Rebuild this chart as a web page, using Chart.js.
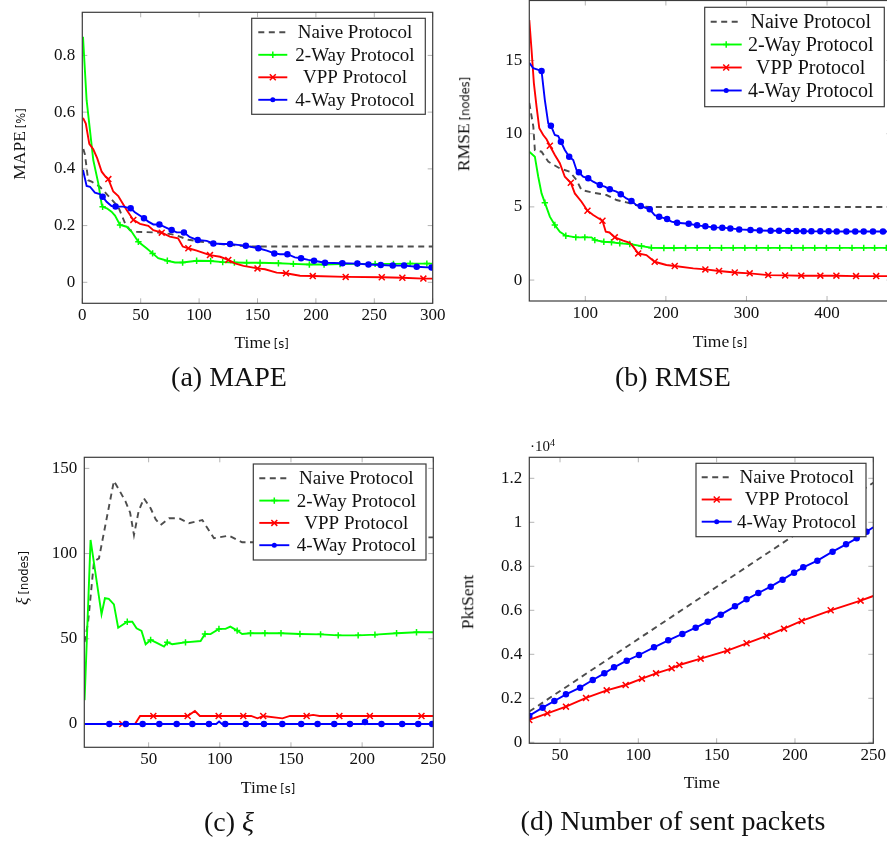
<!DOCTYPE html>
<html><head><meta charset="utf-8">
<script src="https://cdn.jsdelivr.net/npm/chart.js@4.4.1/dist/chart.umd.min.js"></script>
<style>
html,body{margin:0;padding:0;width:887px;height:843px;overflow:hidden;background:#fff;}
canvas{position:absolute;left:0;top:0;}
.t{position:absolute;white-space:nowrap;font-family:"Liberation Serif",serif;color:#111;line-height:1;transform:translate(-50%,-50%);}
.lab{font-size:17.5px;}
.rot{transform:translate(-50%,-50%) rotate(-90deg);}
.u{font-family:"DejaVu Sans",sans-serif;font-size:11.5px;margin-left:3px;}
.cap{font-size:28px;}
.e4{position:absolute;left:530px;top:439px;font-family:"Liberation Serif",serif;font-size:15px;color:#111;line-height:1;}
.e4 sup{font-size:10px;vertical-align:5px;line-height:0;}
</style></head><body>
<canvas id="ca" width="900" height="843"></canvas>
<canvas id="cb" width="900" height="843"></canvas>
<canvas id="cc" width="900" height="843"></canvas>
<canvas id="cd" width="900" height="843"></canvas>

<div class="t lab rot" style="left:20px;top:144px">MAPE<span class="u">[%]</span></div>
<div class="t lab rot" style="left:464px;top:123.5px">RMSE<span class="u">[nodes]</span></div>
<div class="t lab rot" style="left:23px;top:577.5px"><i>ξ</i><span class="u">[nodes]</span></div>
<div class="t lab rot" style="left:467.7px;top:601.7px">PktSent</div>

<div class="t lab" style="left:261.7px;top:342.5px">Time<span class="u">[s]</span></div>
<div class="t lab" style="left:720px;top:341.5px">Time<span class="u">[s]</span></div>
<div class="t lab" style="left:268px;top:787.5px">Time<span class="u">[s]</span></div>
<div class="t lab" style="left:701.8px;top:783.3px">Time</div>

<div class="t cap" style="left:229px;top:377px">(a) MAPE</div>
<div class="t cap" style="left:673px;top:377px">(b) RMSE</div>
<div class="t cap" style="left:229px;top:822px">(c) <i>ξ</i></div>
<div class="t cap" style="left:673px;top:821px">(d) Number of sent packets</div>
<div class="e4">·10<sup>4</sup></div>

<script>
// ---------- (a) MAPE ----------
const mapeXTicks = [0, 50, 100, 150, 200, 250, 300];
const mapeXLabels = ["0", "50", "100", "150", "200", "250", "300"];
const mapeYTicks = [0, 0.2, 0.4, 0.6, 0.8];
const mapeYLabels = ["0", "0.2", "0.4", "0.6", "0.8"];

const mapeNaiveT = [0.9, 2.3, 5, 8, 15, 22, 30.8, 36.6, 40.8, 46, 53.7, 68, 79.4, 90.8, 102, 113.6, 128, 145, 200, 250, 300];
const mapeNaive  = [0.47, 0.45, 0.36, 0.355, 0.337, 0.306, 0.266, 0.208, 0.184, 0.178, 0.177, 0.175, 0.167, 0.15, 0.143, 0.137, 0.131, 0.126, 0.126, 0.126, 0.126];

const mape2WayT = [0.6, 3.7, 9.4, 13.7, 16.6, 17.4, 21, 25, 28, 32.3, 38, 42.3, 48, 55, 60.2, 65, 72.8, 79.4, 85.9, 97.9, 109.9, 120.2, 130.2, 140.7, 152.2, 167.9, 180.7, 194.4, 207, 220.7, 235.5, 250.7, 266.4, 280.7, 295, 300];
const mape2Way  = [0.866, 0.642, 0.431, 0.349, 0.275, 0.266, 0.261, 0.249, 0.235, 0.202, 0.196, 0.178, 0.143, 0.12, 0.102, 0.085, 0.076, 0.07, 0.07, 0.076, 0.075, 0.071, 0.07, 0.069, 0.069, 0.067, 0.065, 0.063, 0.063, 0.064, 0.065, 0.065, 0.065, 0.066, 0.066, 0.066];
const mape2WayMarks = [17.4, 32.3, 48, 60.2, 72.8, 85.9, 97.9, 109.9, 120.2, 130.2, 140.7, 152.2, 167.9, 180.7, 194.4, 207, 220.7, 235.5, 250.7, 266.4, 280.7, 295];

const mapeVppT = [0.6, 3, 6, 9.4, 12.8, 16.6, 20, 22.3, 26.5, 30.8, 33.7, 38, 43.7, 49.4, 56.5, 60.8, 68, 75, 82, 86, 90.8, 98, 109.3, 118, 125, 130.7, 138, 150, 156.4, 166.4, 174.4, 186.4, 197.3, 225.5, 256.4, 274, 292, 300];
const mapeVpp  = [0.58, 0.56, 0.488, 0.469, 0.437, 0.39, 0.372, 0.364, 0.32, 0.304, 0.284, 0.255, 0.22, 0.206, 0.199, 0.184, 0.175, 0.161, 0.155, 0.126, 0.12, 0.112, 0.096, 0.09, 0.079, 0.067, 0.058, 0.049, 0.046, 0.034, 0.032, 0.023, 0.022, 0.019, 0.018, 0.016, 0.013, 0.013];
const mapeVppMarks = [22.3, 43.7, 68, 90.8, 109.3, 125, 150, 174.4, 197.3, 225.5, 256.4, 274, 292];

const mape4WayT = [0.6, 3.7, 6.6, 10.8, 15, 17.4, 20.8, 25, 28.5, 35, 41.4, 45, 52.8, 56.5, 60.8, 66, 71.7, 76.5, 80.8, 87, 92.2, 98.8, 106.5, 112.2, 120.7, 126.5, 133, 140, 146.4, 150.7, 158, 164.4, 169.3, 175.6, 182, 187.3, 193.5, 198.4, 207.8, 222.7, 235.5, 245, 255.5, 265.8, 275.5, 286.3, 299, 300];
const mape4Way  = [0.396, 0.34, 0.337, 0.316, 0.311, 0.302, 0.284, 0.269, 0.267, 0.267, 0.261, 0.247, 0.226, 0.214, 0.204, 0.204, 0.193, 0.184, 0.176, 0.176, 0.159, 0.149, 0.146, 0.137, 0.135, 0.135, 0.132, 0.129, 0.123, 0.12, 0.112, 0.102, 0.099, 0.099, 0.088, 0.085, 0.079, 0.076, 0.069, 0.067, 0.066, 0.063, 0.061, 0.059, 0.059, 0.055, 0.052, 0.05];
const mape4WayMarks = [17.4, 28.5, 41.4, 52.8, 66, 76.5, 87, 98.8, 112.2, 126.5, 140, 150.7, 164.4, 175.6, 187.3, 198.4, 207.8, 222.7, 235.5, 245, 255.5, 265.8, 275.5, 286.3, 299];

// ---------- (b) RMSE ----------
const rmseXTicks = [100, 200, 300, 400];
const rmseXLabels = ["100", "200", "300", "400"];
const rmseYTicks = [0, 5, 10, 15];
const rmseYLabels = ["0", "5", "10", "15"];

const rmseNaiveT = [30.5, 35.5, 37.4, 45.7, 54, 68.4, 80.8, 89, 95.3, 109.8, 126.3, 138.7, 151, 167.5, 180, 250, 350, 480];
const rmseNaive  = [12.1, 10.48, 8.88, 8.77, 8.09, 7.63, 7.4, 6.84, 6.15, 5.97, 5.81, 5.47, 5.31, 5.06, 4.99, 4.99, 4.99, 4.99];

const rmse2WayT = [30.5, 37.4, 41.6, 45.7, 49.8, 56, 62.2, 68.4, 75.8, 88.2, 99.4, 107.7, 111.8, 123, 132.5, 142.8, 155.2, 169.7, 182, 197.5, 210, 224.4, 238.8, 254.5, 269, 283.5, 298, 312.4, 326.9, 341.3, 355.8, 370.2, 384.7, 399.2, 415.7, 431, 445.5, 459, 473.6, 480];
const rmse2Way  = [8.77, 8.43, 7.06, 5.92, 5.29, 4.33, 3.76, 3.3, 3.03, 2.92, 2.92, 2.92, 2.73, 2.62, 2.58, 2.51, 2.46, 2.32, 2.21, 2.19, 2.19, 2.2, 2.2, 2.2, 2.2, 2.2, 2.2, 2.2, 2.2, 2.2, 2.2, 2.2, 2.2, 2.2, 2.2, 2.2, 2.2, 2.2, 2.2, 2.2];
const rmse2WayMarks = [49.8, 62.2, 75.8, 88.2, 99.4, 111.8, 123, 132.5, 142.8, 155.2, 169.7, 182, 197.5, 210, 224.4, 238.8, 254.5, 269, 283.5, 298, 312.4, 326.9, 341.3, 355.8, 370.2, 384.7, 399.2, 415.7, 431, 445.5, 459, 473.6];

const rmseVppT = [30.5, 33.3, 36.2, 39.5, 42.9, 47.8, 51.9, 56, 62.2, 68.4, 74.6, 82, 87, 95.3, 102.7, 109.8, 121.3, 125.4, 130, 136.6, 147, 155.2, 159.4, 165.6, 175.8, 186.1, 200.6, 211, 234, 249, 266, 285.5, 304, 327, 348, 368, 391.7, 411.6, 436, 461, 480];
const rmseVpp  = [17.77, 15.72, 13.44, 11.85, 10.37, 9.91, 9.62, 9.18, 8.54, 7.98, 7.06, 6.65, 5.92, 5.35, 4.74, 4.44, 4.05, 3.3, 3.25, 2.92, 2.69, 2.55, 2.28, 1.82, 1.71, 1.25, 1.03, 0.96, 0.8, 0.73, 0.62, 0.52, 0.46, 0.34, 0.32, 0.3, 0.3, 0.3, 0.27, 0.27, 0.27];
const rmseVppMarks = [56, 82, 102.7, 121.3, 136.6, 165.6, 186.1, 211, 249, 266, 285.5, 304, 327, 348, 368, 391.7, 411.6, 436, 461];

const rmse4WayT = [30.5, 35.4, 45.7, 49.8, 54, 57.3, 62.2, 66.4, 69.7, 74.6, 80, 85, 89.1, 92, 97.3, 103.6, 109.8, 118, 124.2, 130.4, 138.7, 144, 151, 157.3, 163.5, 168.8, 180, 186.1, 191.6, 201.5, 206.9, 213.9, 228.3, 238.7, 249, 259.5, 270, 280, 291, 305, 316.5, 330, 340.5, 351.7, 362, 371, 380.6, 391.7, 402, 412, 424, 435, 445.5, 457, 469.4, 480];
const rmse4Way  = [14.85, 14.47, 14.29, 12.3, 10.71, 10.55, 9.91, 9.84, 9.45, 8.89, 8.43, 8.2, 7.52, 7.36, 7.06, 6.95, 6.72, 6.49, 6.38, 6.2, 6.04, 5.86, 5.58, 5.4, 5.12, 5.06, 4.83, 4.44, 4.33, 4.17, 3.99, 3.92, 3.85, 3.74, 3.67, 3.6, 3.58, 3.53, 3.46, 3.42, 3.39, 3.37, 3.37, 3.35, 3.35, 3.34, 3.33, 3.33, 3.33, 3.32, 3.32, 3.32, 3.32, 3.32, 3.32, 3.32];
const rmse4WayMarks = [45.7, 57.3, 69.7, 80, 92, 103.6, 118, 130.4, 144, 157.3, 168.8, 180, 191.6, 201.5, 213.9, 228.3, 238.7, 249, 259.5, 270, 280, 291, 305, 316.5, 330, 340.5, 351.7, 362, 371, 380.6, 391.7, 402, 412, 424, 435, 445.5, 457, 469.4];

// ---------- (c) xi ----------
const xiXTicks = [50, 100, 150, 200, 250];
const xiXLabels = ["50", "100", "150", "200", "250"];
const xiYTicks = [0, 50, 100, 150];
const xiYLabels = ["0", "50", "100", "150"];

const xiNaiveT = [5, 7.5, 11.6, 15.1, 25.6, 29.5, 33.8, 37, 39.7, 43, 46.7, 51.4, 55, 58.4, 64.3, 71.3, 78.3, 87.7, 95.9, 106.4, 115.7, 121.6, 140, 170, 200, 230, 250];
const xiNaive  = [48, 60, 95.3, 97.2, 142.6, 137, 130.5, 124, 110.9, 125, 132.4, 126.6, 120, 116.8, 120.7, 120.7, 117.8, 119.7, 109, 110.5, 106.6, 106.6, 107, 108, 108.5, 109.5, 109.5];

const xi2WayT = [5, 9.2, 16.9, 19.3, 22, 25.6, 28.6, 35, 38.5, 41.5, 45, 47.9, 51.4, 56.1, 60.8, 63.1, 66.6, 71.3, 75.9, 86.5, 89.6, 93.5, 99.4, 104, 107.4, 112.2, 115.7, 121.6, 131.7, 143, 156.3, 170.8, 183.2, 197.2, 209, 224.2, 238.2, 250];
const xi2Way  = [14, 108, 64.4, 73.8, 73.4, 70.2, 56.5, 60, 60, 56.1, 54.6, 46.8, 49.3, 47.4, 45.4, 47.9, 46.8, 47.4, 47.9, 48.7, 52.8, 52.7, 55.8, 55.8, 57.1, 54.8, 52.8, 53.2, 53.2, 53.2, 52.8, 52.6, 52, 52, 52.4, 53.2, 53.8, 53.8];
const xi2WayMarks = [35, 51.4, 63.1, 75.9, 89.6, 99.4, 112.2, 121.6, 131.7, 143, 156.3, 170.8, 183.2, 197.2, 209, 224.2, 238.2];

const xiVppT = [31.5, 40.4, 44, 53.3, 77.4, 82.5, 86, 99.2, 116.5, 122, 126.5, 130.5, 144, 149.3, 161, 165.6, 170, 184, 205.4, 241.7, 250];
const xiVpp  = [0, 0, 4.7, 4.7, 4.7, 7.6, 4.7, 4.7, 4.7, 4.7, 3.3, 4.7, 3.3, 4.7, 4.7, 5.3, 4.7, 4.7, 4.7, 4.7, 4.7];
const xiVppMarks = [31.5, 53.3, 77.4, 99.2, 116.5, 130.5, 161, 184, 205.4, 241.7];

const xi4WayT = [5, 22.4, 34, 45.8, 57.5, 69.7, 80.7, 92.4, 97.5, 99.5, 101.5, 103.8, 118.3, 131, 143.9, 157.2, 168.7, 180.4, 191.4, 200, 202, 204, 213.6, 228.1, 239.4, 249.2, 250];
const xi4Way  = [0, 0, 0, 0, 0, 0, 0, 0, 0, 1.4, 0, 0, 0, 0, 0, 0, 0, 0, 0, 0, 1.2, 0, 0, 0, 0, 0, 0];
const xi4WayMarks = [22.4, 34, 45.8, 57.5, 69.7, 80.7, 92.4, 103.8, 118.3, 131, 143.9, 157.2, 168.7, 180.4, 191.4, 202, 213.6, 228.1, 239.4, 249.2];

// ---------- (d) sent packets ----------
const pktXTicks = [50, 100, 150, 200, 250];
const pktXLabels = ["50", "100", "150", "200", "250"];
const pktYTicks = [0, 2000, 4000, 6000, 8000, 10000, 12000];
const pktYLabels = ["0", "0.2", "0.4", "0.6", "0.8", "1", "1.2"];

const pktNaiveT = [30.4, 250];
const pktNaive  = [1400, 11800];

const pktVppT = [30.4, 41.9, 53.8, 66.6, 79.8, 91.9, 102.3, 111.3, 121.3, 126.2, 139.8, 156.8, 169.1, 181.9, 193, 204.3, 222.8, 241.9, 250];
const pktVpp  = [1015, 1318, 1621, 2015, 2363, 2606, 2894, 3136, 3363, 3515, 3803, 4166, 4500, 4833, 5166, 5515, 6000, 6439, 6651];
const pktVppMarks = [30.4, 41.9, 53.8, 66.6, 79.8, 91.9, 102.3, 111.3, 121.3, 126.2, 139.8, 156.8, 169.1, 181.9, 193, 204.3, 222.8, 241.9];

const pkt4WayT = [30.4, 38.9, 46.4, 53.8, 62.8, 70.9, 78.3, 84.5, 92.6, 100.4, 110, 119.1, 128.1, 136.6, 144.3, 152.6, 161.7, 169.1, 176.6, 184.5, 192.1, 199.4, 205.3, 214.3, 224, 232.6, 239.4, 245.7, 250];
const pkt4Way  = [1212, 1576, 1879, 2182, 2485, 2833, 3136, 3409, 3712, 3969, 4318, 4636, 4924, 5212, 5484, 5802, 6181, 6500, 6787, 7075, 7393, 7711, 7954, 8257, 8666, 8999, 9272, 9575, 9772];
const pkt4WayMarks = [30.4, 38.9, 46.4, 53.8, 62.8, 70.9, 78.3, 84.5, 92.6, 100.4, 110, 119.1, 128.1, 136.6, 144.3, 152.6, 161.7, 169.1, 176.6, 184.5, 192.1, 199.4, 205.3, 214.3, 224, 232.6, 239.4, 245.7];

// ---------- styles ----------
const LW = 1.9;
const STYLE = {
  naive: { color: '#4d4d4d', dash: [6, 4.5], order: 4 },
  two:   { color: '#00ff00', pointStyle: 'cross', r: 3.2, order: 3 },
  vpp:   { color: '#ff0000', pointStyle: 'crossRot', r: 4.2, order: 2 },
  four:  { color: '#0000ff', pointStyle: 'circle', r: 2.5, order: 1 }
};

function drawMark(ctx, st, x, y) {
  ctx.save();
  ctx.strokeStyle = st.color; ctx.fillStyle = st.color; ctx.lineWidth = 1.5; ctx.setLineDash([]);
  ctx.beginPath();
  if (st.pointStyle === 'circle') { ctx.arc(x, y, st.r, 0, Math.PI * 2); ctx.fill(); }
  else if (st.pointStyle === 'cross') { ctx.moveTo(x - st.r, y); ctx.lineTo(x + st.r, y); ctx.moveTo(x, y - st.r); ctx.lineTo(x, y + st.r); ctx.stroke(); }
  else { const d = st.r * 0.7071; ctx.moveTo(x - d, y - d); ctx.lineTo(x + d, y + d); ctx.moveTo(x - d, y + d); ctx.lineTo(x + d, y - d); ctx.stroke(); }
  ctx.restore();
}

function makeChart(id, cfg) {
  const W = 900, H = 843, yW = 60, xH = 40;
  const A = cfg.area;
  const font = { family: '"Liberation Serif", serif', size: 17 };
  const plugin = {
    id: 'frame_' + id,
    beforeDatasetsDraw(chart) {
      const ctx = chart.ctx, ca = chart.chartArea, x = chart.scales.x, y = chart.scales.y;
      ctx.save();
      ctx.strokeStyle = '#b4b4b4'; ctx.lineWidth = 1;
      ctx.beginPath();
      cfg.xTicks.forEach(v => { const p = x.getPixelForValue(v); ctx.moveTo(p, ca.bottom); ctx.lineTo(p, ca.bottom - 5); ctx.moveTo(p, ca.top); ctx.lineTo(p, ca.top + 5); });
      cfg.yTicks.forEach(v => { const p = y.getPixelForValue(v); ctx.moveTo(ca.left, p); ctx.lineTo(ca.left + 5, p); ctx.moveTo(ca.right, p); ctx.lineTo(ca.right - 5, p); });
      ctx.stroke();
      ctx.restore();
    },
    afterDatasetsDraw(chart) {
      const ctx = chart.ctx, ca = chart.chartArea;
      ctx.save();
      ctx.strokeStyle = '#3c3c3c'; ctx.lineWidth = 1.2;
      ctx.strokeRect(ca.left, ca.top, ca.right - ca.left, ca.bottom - ca.top);
      const L = cfg.legend;
      const bx = ca.right - L.right - L.w, by = ca.top + L.top;
      ctx.fillStyle = '#fff'; ctx.fillRect(bx, by, L.w, L.h);
      ctx.strokeRect(bx, by, L.w, L.h);
      ctx.font = L.size + 'px "Liberation Serif", serif';
      ctx.textAlign = 'center'; ctx.textBaseline = 'middle';
      cfg.series.forEach((s, i) => {
        const st = STYLE[s.kind]; const ry = by + L.rows[i];
        ctx.strokeStyle = st.color; ctx.lineWidth = LW; ctx.setLineDash(st.dash || []);
        ctx.beginPath(); ctx.moveTo(bx + L.s0, ry); ctx.lineTo(bx + L.s1, ry); ctx.stroke();
        ctx.setLineDash([]);
        if (st.pointStyle) drawMark(ctx, st, bx + (L.s0 + L.s1) / 2, ry);
        ctx.fillStyle = '#111'; ctx.fillText(s.label, bx + L.tc, ry + 1);
      });
      ctx.restore();
    }
  };
  const datasets = cfg.series.map(s => {
    const st = STYLE[s.kind];
    const marks = s.marks || [];
    return {
      label: s.label,
      data: s.t.map((x, i) => ({ x: x, y: s.y[i] })),
      borderColor: st.color, backgroundColor: st.color,
      borderWidth: LW, borderDash: st.dash || [],
      pointStyle: st.pointStyle || 'circle',
      pointRadius: s.t.map(x => (st.pointStyle && marks.includes(x)) ? st.r : 0),
      pointHoverRadius: 0,
      pointBorderWidth: 1.5,
      pointBackgroundColor: st.color, pointBorderColor: st.color,
      tension: 0, fill: false, order: st.order
    };
  });
  return new Chart(document.getElementById(id), {
    type: 'line',
    data: { datasets: datasets },
    options: {
      responsive: false, animation: false, devicePixelRatio: 1,
      events: [],
      layout: { padding: { left: A.l - yW, top: A.t, right: W - A.r, bottom: H - A.b - xH } },
      plugins: { legend: { display: false }, tooltip: { enabled: false } },
      scales: {
        x: {
          type: 'linear', min: cfg.xMin, max: cfg.xMax, bounds: 'data',
          grid: { display: false, drawTicks: false }, border: { display: false },
          ticks: { font: font, color: '#111', padding: 2.5, autoSkip: false, maxRotation: 0, minRotation: 0,
                   callback: (v, i) => cfg.xLabels[i] },
          afterBuildTicks: s => { s.ticks = cfg.xTicks.map(v => ({ value: v })); },
          afterFit: s => { s.height = xH; s.paddingLeft = 0; s.paddingRight = 0; s.paddingTop = 0; s.paddingBottom = 0; }
        },
        y: {
          type: 'linear', min: cfg.yMin, max: cfg.yMax, bounds: 'data',
          grid: { display: false, drawTicks: false }, border: { display: false },
          ticks: { font: font, color: '#111', padding: 7, autoSkip: false,
                   callback: (v, i) => cfg.yLabels[i] },
          afterBuildTicks: s => { s.ticks = cfg.yTicks.map(v => ({ value: v })); },
          afterFit: s => { s.width = yW; s.paddingLeft = 0; s.paddingRight = 0; s.paddingTop = 0; s.paddingBottom = 0; }
        }
      }
    },
    plugins: [plugin]
  });
}

makeChart('ca', {
  area: { l: 82.3, r: 432.7, t: 12.3, b: 303.3 },
  xMin: 0, xMax: 300, yMin: -0.074, yMax: 0.952,
  xTicks: mapeXTicks, xLabels: mapeXLabels, yTicks: mapeYTicks, yLabels: mapeYLabels,
  legend: { right: 7.4, top: 6, w: 173.6, h: 96, rows: [14, 36.5, 59, 81.5], s0: 6.6, s1: 35.6, tc: 103.3, size: 19 },
  series: [
    { label: 'Naive Protocol', kind: 'naive', t: mapeNaiveT, y: mapeNaive },
    { label: '2-Way Protocol', kind: 'two', t: mape2WayT, y: mape2Way, marks: mape2WayMarks },
    { label: 'VPP Protocol', kind: 'vpp', t: mapeVppT, y: mapeVpp, marks: mapeVppMarks },
    { label: '4-Way Protocol', kind: 'four', t: mape4WayT, y: mape4Way, marks: mape4WayMarks }
  ]
});

makeChart('cb', {
  area: { l: 529.3, r: 891.5, t: 0.5, b: 301 },
  xMin: 30.5, xMax: 480, yMin: -1.43, yMax: 19.1,
  xTicks: rmseXTicks, xLabels: rmseXLabels, yTicks: rmseYTicks, yLabels: rmseYLabels,
  legend: { right: 7.2, top: 6.8, w: 179.6, h: 99.4, rows: [14.4, 37.2, 60.2, 83.2], s0: 6, s1: 37, tc: 106, size: 20 },
  series: [
    { label: 'Naive Protocol', kind: 'naive', t: rmseNaiveT, y: rmseNaive },
    { label: '2-Way Protocol', kind: 'two', t: rmse2WayT, y: rmse2Way, marks: rmse2WayMarks },
    { label: 'VPP Protocol', kind: 'vpp', t: rmseVppT, y: rmseVpp, marks: rmseVppMarks },
    { label: '4-Way Protocol', kind: 'four', t: rmse4WayT, y: rmse4Way, marks: rmse4WayMarks }
  ]
});

makeChart('cc', {
  area: { l: 84.3, r: 433.3, t: 457.3, b: 747.3 },
  xMin: 4.8, xMax: 250, yMin: -13.7, yMax: 156.5,
  xTicks: xiXTicks, xLabels: xiXLabels, yTicks: xiYTicks, yLabels: xiYLabels,
  legend: { right: 7.3, top: 6.7, w: 172.7, h: 96, rows: [14.3, 36.6, 58.9, 81.2], s0: 6, s1: 36, tc: 103, size: 19 },
  series: [
    { label: 'Naive Protocol', kind: 'naive', t: xiNaiveT, y: xiNaive },
    { label: '2-Way Protocol', kind: 'two', t: xi2WayT, y: xi2Way, marks: xi2WayMarks },
    { label: 'VPP Protocol', kind: 'vpp', t: xiVppT, y: xiVpp, marks: xiVppMarks },
    { label: '4-Way Protocol', kind: 'four', t: xi4WayT, y: xi4Way, marks: xi4WayMarks }
  ]
});

makeChart('cd', {
  area: { l: 529.3, r: 873.3, t: 457.3, b: 743.3 },
  xMin: 30.4, xMax: 250, yMin: -45, yMax: 12955,
  xTicks: pktXTicks, xLabels: pktXLabels, yTicks: pktYTicks, yLabels: pktYLabels,
  legend: { right: 7.3, top: 6, w: 170, h: 73.4, rows: [14, 36.2, 58.4], s0: 5.7, s1: 35.7, tc: 100.7, size: 19 },
  series: [
    { label: 'Naive Protocol', kind: 'naive', t: pktNaiveT, y: pktNaive },
    { label: 'VPP Protocol', kind: 'vpp', t: pktVppT, y: pktVpp, marks: pktVppMarks },
    { label: '4-Way Protocol', kind: 'four', t: pkt4WayT, y: pkt4Way, marks: pkt4WayMarks }
  ]
});
</script>
</body></html>
